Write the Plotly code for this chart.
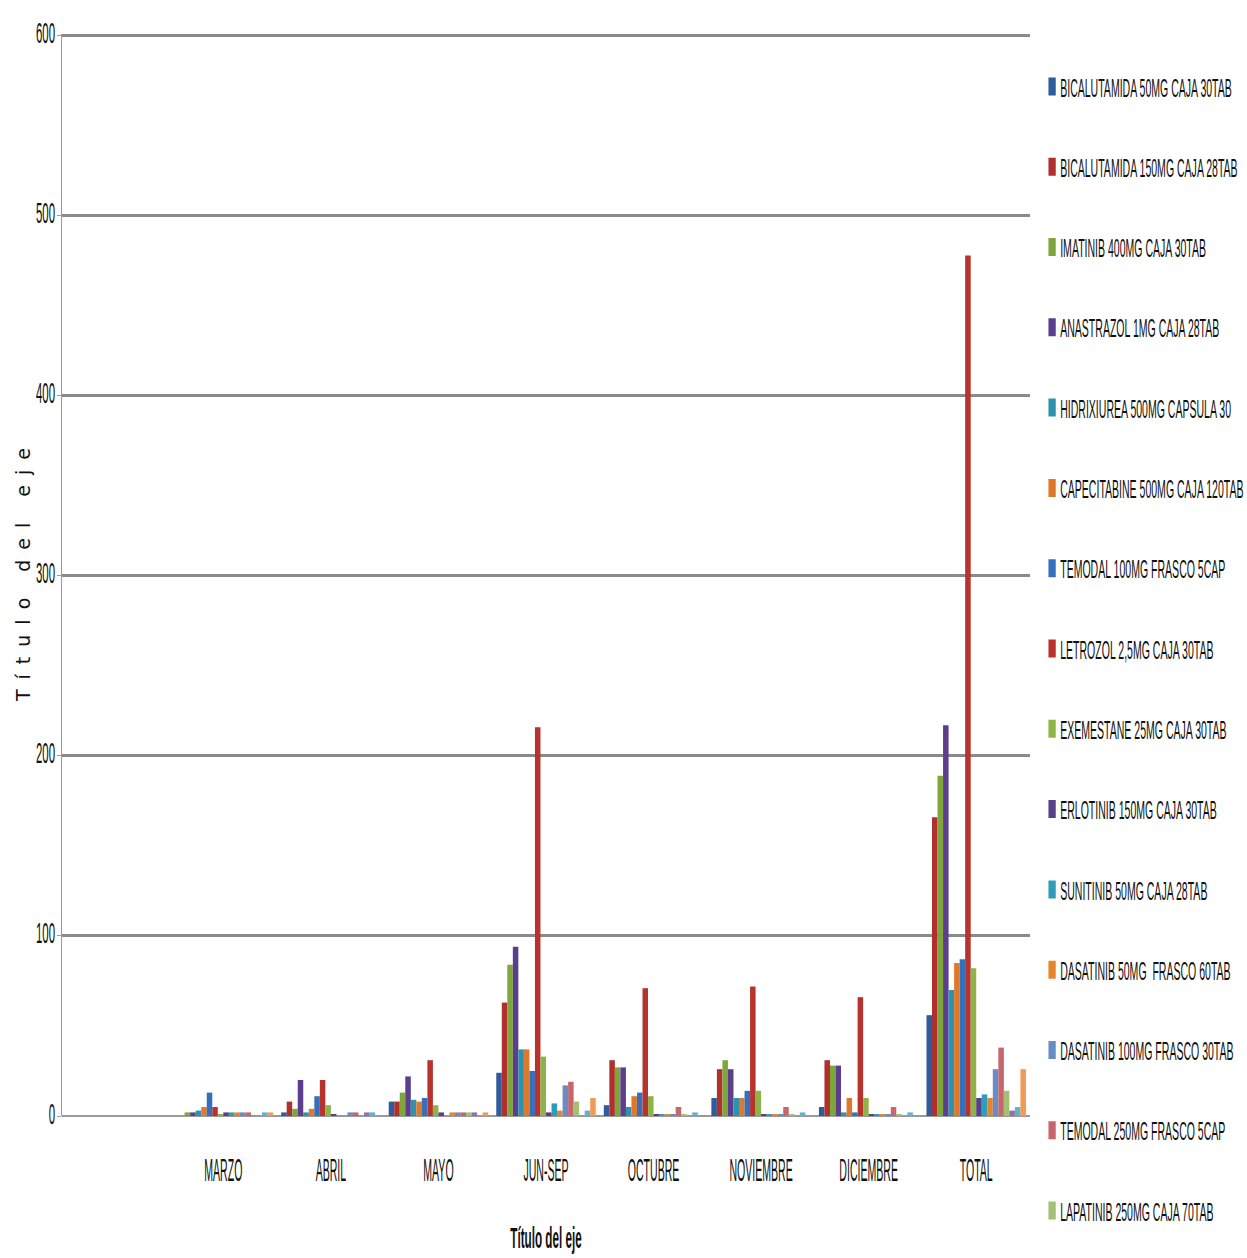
import plotly.graph_objects as go

# Category labels (first slot left blank on the axis via the range)
months = ["MARZO", "ABRIL", "MAYO", "JUN-SEP", "OCTUBRE", "NOVIEMBRE", "DICIEMBRE", "TOTAL"]

# Series names shown in the legend
names = [
    "BICALUTAMIDA 50MG CAJA 30TAB",
    "BICALUTAMIDA 150MG CAJA 28TAB",
    "IMATINIB 400MG CAJA 30TAB",
    "ANASTRAZOL 1MG CAJA 28TAB",
    "HIDRIXIUREA 500MG CAPSULA 30",
    "CAPECITABINE 500MG CAJA 120TAB",
    "TEMODAL 100MG FRASCO 5CAP",
    "LETROZOL 2,5MG CAJA 30TAB",
    "EXEMESTANE 25MG CAJA 30TAB",
    "ERLOTINIB 150MG CAJA 30TAB",
    "SUNITINIB 50MG CAJA 28TAB",
    "DASATINIB 50MG  FRASCO 60TAB",
    "DASATINIB 100MG FRASCO 30TAB",
    "TEMODAL 250MG FRASCO 5CAP",
    "LAPATINIB 250MG CAJA 70TAB",
    "Serie 16",
    "Serie 17",
    "Serie 18",
]

# Units per month, one list per product
bicalutamida_50 = [0, 2, 8, 24, 6, 10, 5, 56]
bicalutamida_150 = [0, 8, 8, 63, 31, 26, 31, 166]
imatinib_400 = [2, 4, 13, 84, 27, 31, 28, 189]
anastrazol_1 = [2, 20, 22, 94, 27, 26, 28, 217]
hidrixiurea_500 = [3, 2, 9, 37, 5, 10, 2, 70]
capecitabine_500 = [5, 4, 8, 37, 11, 10, 10, 85]
temodal_100 = [13, 11, 10, 25, 13, 14, 2, 87]
letrozol_25 = [5, 20, 31, 216, 71, 72, 66, 478]
exemestane_25 = [1, 6, 6, 33, 11, 14, 10, 82]
erlotinib_150 = [2, 1, 2, 2, 1, 1, 1, 10]
sunitinib_50 = [2, 0, 0, 7, 1, 1, 1, 12]
dasatinib_50 = [2, 0, 2, 3, 1, 1, 1, 10]
dasatinib_100 = [2, 2, 2, 17, 1, 1, 1, 26]
temodal_250 = [2, 2, 2, 19, 5, 5, 5, 38]
lapatinib_250 = [0, 0, 2, 8, 1, 1, 1, 14]
serie_16 = [0, 2, 2, 0, 0, 0, 0, 3]
serie_17 = [2, 2, 0, 3, 2, 2, 2, 5]
serie_18 = [2, 0, 2, 10, 0, 0, 0, 26]

series = [
    bicalutamida_50, bicalutamida_150, imatinib_400, anastrazol_1, hidrixiurea_500,
    capecitabine_500, temodal_100, letrozol_25, exemestane_25, erlotinib_150,
    sunitinib_50, dasatinib_50, dasatinib_100, temodal_250, lapatinib_250,
    serie_16, serie_17, serie_18,
]

colors = [
    "#2F5C9C", "#B0302E", "#7FA63A", "#5B3F8E", "#2B93AE", "#E0782A",
    "#3470BE", "#B8332E", "#8DB446", "#56408A", "#2D9DB8", "#E5862F",
    "#6A8CC6", "#C7676B", "#A3C075", "#8A74AE", "#5EB4CA", "#F19A56",
]

sans = "Liberation Sans, Arial, sans-serif"

fig = go.Figure()
for i, (name, vals) in enumerate(zip(names, series)):
    fig.add_trace(go.Bar(
        x=months,
        y=vals,
        name=name,
        marker=dict(color=colors[i], line=dict(width=0)),
        legendgroup=f"g{i}",
        showlegend=i < 15,
    ))

fig.update_layout(
    width=1247,
    height=1258,
    margin=dict(l=62, r=217, t=34, b=142, autoexpand=False),
    paper_bgcolor="white",
    plot_bgcolor="white",
    barmode="group",
    bargap=0.075,
    bargroupgap=0,
    font=dict(family=sans, color="#111111"),
    legend=dict(
        x=0.99,
        xanchor="left",
        y=0.9704,
        yanchor="top",
        font=dict(family=sans, size=26, color="#111111"),
        tracegroupgap=43.5,
        itemwidth=30,
        maxheight=1300,
        bgcolor="rgba(0,0,0,0)",
    ),
    xaxis=dict(
        type="category",
        categoryorder="array",
        categoryarray=months,
        range=[-1.5, 7.5],
        showgrid=False,
        showline=False,
        ticks="",
        tickangle=0,
        tickfont=dict(family=sans, size=32, color="#111111"),
        ticklabelstandoff=32,
        title=dict(text="<b>Título del eje</b>",
                   font=dict(family=sans, size=30, color="#111111"),
                   standoff=40),
    ),
    yaxis=dict(
        range=[0, 601],
        tickvals=[0, 100, 200, 300, 400, 500, 600],
        showgrid=True,
        gridcolor="#8a8a8a",
        gridwidth=2.5,
        zeroline=True,
        zerolinecolor="#9a9a9a",
        zerolinewidth=2,
        showline=True,
        linecolor="#9a9a9a",
        linewidth=1,
        ticks="outside",
        ticklen=4,
        tickcolor="#9a9a9a",
        tickfont=dict(family=sans, size=30, color="#111111"),
        ticklabelstandoff=3,
        title=dict(text="Título del eje",
                   font=dict(family="DejaVu Sans, sans-serif", size=19, color="#111111"),
                   standoff=10),
    ),
)

# Narrow, tall lettering for labels and legend, applied after each render
post_js = """
var gd = document.getElementById('{plot_id}');
function svgBox(el) {
    var s = gd.querySelector('svg.main-svg').getBoundingClientRect();
    var r = el.getBoundingClientRect();
    return {l: r.left - s.left, r: r.right - s.left, t: r.top - s.top, b: r.bottom - s.top};
}
function squeeze(t, s) {
    var cur = t.getAttribute('transform') || '';
    if (t.getAttribute('data-sq') === cur && cur !== '') return false;
    var x = parseFloat(t.getAttribute('x')) || 0;
    var nt = cur + ' translate(' + x + ',0) scale(' + s + ',1) translate(' + (-x) + ',0)';
    t.setAttribute('transform', nt);
    t.setAttribute('data-sq', nt);
    return true;
}
function shift(t, dx, dy) {
    var nt = 'translate(' + dx + ',' + dy + ') ' + (t.getAttribute('transform') || '');
    t.setAttribute('transform', nt);
    t.setAttribute('data-sq', nt);
}
function restyleText() {
    gd.querySelectorAll('g.xtick text').forEach(function (t) { squeeze(t, 0.33); });
    gd.querySelectorAll('g.ytick text').forEach(function (t) {
        if (squeeze(t, 0.38)) {
            var b = svgBox(t);
            shift(t, 55 - b.r, -3);
        }
    });
    gd.querySelectorAll('g.g-xtitle text').forEach(function (t) { squeeze(t, 0.39); });
    gd.querySelectorAll('g.g-ytitle text').forEach(function (t) {
        if (t.getAttribute('data-sq')) return;
        t.style.letterSpacing = '10px';
        t.setAttribute('transform', 'rotate(-90,' + t.getAttribute('x') + ',' + t.getAttribute('y') + ')');
        var b = svgBox(t);
        var cx = (b.l + b.r) / 2, cy = (b.t + b.b) / 2;
        shift(t, 23 - cx, 570 - cy);
    });
    var lg = gd.querySelector('g.legend');
    if (lg) {
        lg.setAttribute('transform', 'translate(1044,63) scale(0.405,1)');
        lg.querySelectorAll('g.legendpoints path').forEach(function (p) {
            if (p.getAttribute('data-sq')) return;
            var tr = (p.getAttribute('transform') || '') + ' scale(1.5,1.5)';
            p.setAttribute('transform', tr);
            p.setAttribute('data-sq', tr);
        });
    }
}
restyleText();
gd.on('plotly_afterplot', restyleText);
"""

fig.write_html("out.html", post_script=post_js)
